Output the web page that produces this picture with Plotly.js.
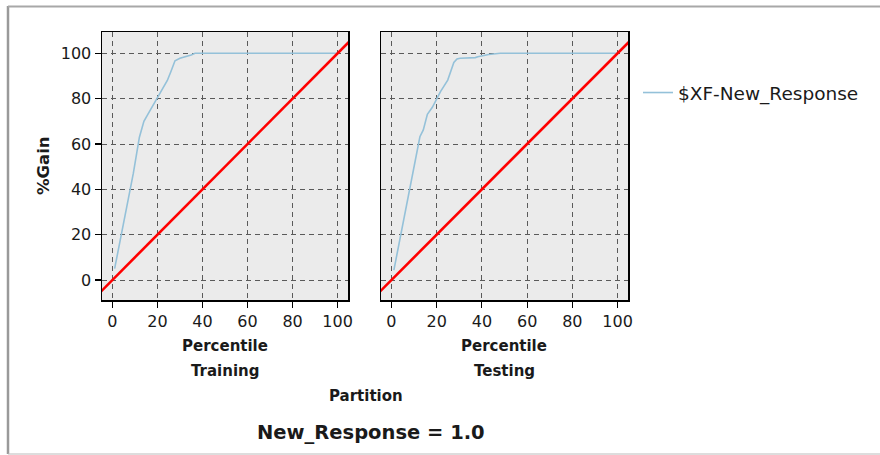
<!DOCTYPE html>
<html>
<head>
<meta charset="utf-8">
<script src="https://cdn.plot.ly/plotly-3.0.1.min.js"></script>
<style>
html,body{margin:0;padding:0;background:#fff;}
#chart{width:880px;height:455px;}
</style>
</head>
<body>
<div id="chart"></div>
<script>
// ---- data ----
const partitions = ["Training", "Testing"];
const seriesName = "$XF-New_Response";
const trainPct  = [1, 3, 5, 8, 9.3, 12, 14, 16, 18, 19.7, 22, 24.4, 26, 27.8, 30, 33, 35, 36.7, 100];
const trainGain = [5, 15, 25, 40, 47, 63, 70, 73.5, 77, 80, 84, 88, 92, 96.7, 97.8, 98.5, 99.3, 100, 100];
const testPct   = [1.1, 4, 6, 8.1, 10, 12.6, 14.1, 15.1, 15.9, 18.1, 20, 21.7, 24.9, 26.1, 27.6, 29, 30.4, 37.1, 38.2, 43, 48.1, 100];
const testGain  = [4.4, 19, 29, 40.4, 50, 63.2, 66.2, 70.6, 73.1, 76.2, 79.8, 83.1, 88.2, 91.9, 96, 97.5, 97.8, 98.1, 98.5, 99.5, 100, 100];
const basePct   = [-5, 105];
const baseGain  = [-5, 105];
const tickVals  = [0, 20, 40, 60, 80, 100];
const tickText  = ["0", "20", "40", "60", "80", "100"];

const W = 880, H = 455;
const FONT = "DejaVu Sans, Verdana, sans-serif";
const blue = "#94c1d9";
const px = v => v / W;
const py = v => 1 - v / H;

const traces = [
  {x: trainPct, y: trainGain, xaxis: "x", yaxis: "y", type: "scatter", mode: "lines",
   name: seriesName, line: {color: blue, width: 1.6}, showlegend: true, hoverinfo: "skip"},
  {x: basePct, y: baseGain, xaxis: "x", yaxis: "y", type: "scatter", mode: "lines",
   line: {color: "#ff0000", width: 2.6}, showlegend: false, hoverinfo: "skip"},
  {x: testPct, y: testGain, xaxis: "x2", yaxis: "y2", type: "scatter", mode: "lines",
   name: seriesName, line: {color: blue, width: 1.6}, showlegend: false, hoverinfo: "skip"},
  {x: basePct, y: baseGain, xaxis: "x2", yaxis: "y2", type: "scatter", mode: "lines",
   line: {color: "#ff0000", width: 2.6}, showlegend: false, hoverinfo: "skip"}
];

const tickFont = {family: FONT, size: 16, color: "#1a1a1a"};
function xAxis(d0, d1, anchor) {
  return {domain: [px(d0), px(d1)], anchor: anchor, range: [-4.6, 104.6],
    tickvals: tickVals, ticktext: tickText, ticks: "outside", ticklen: 6, tickwidth: 1.2,
    tickcolor: "#000", showline: true, linecolor: "#000", linewidth: 1.5, mirror: true,
    showgrid: true, gridcolor: "#5a5a5a", griddash: "5px,4px", gridwidth: 1, zeroline: false,
    tickfont: tickFont, fixedrange: true};
}
function yAxis(anchor, labels) {
  return {domain: [py(300), py(32)], anchor: anchor, range: [-8.8, 109.4],
    tickvals: tickVals, ticktext: tickText, ticks: labels ? "outside" : "", ticklen: 6, tickwidth: 1.2,
    tickcolor: "#000", showticklabels: labels, showline: true, linecolor: "#000", linewidth: 1.5, mirror: true,
    showgrid: true, gridcolor: "#5a5a5a", griddash: "5px,4px", gridwidth: 1, zeroline: false,
    tickfont: tickFont, fixedrange: true};
}

const boldFont = s => ({family: FONT, size: s, color: "#1a1a1a", weight: "bold"});
function ann(text, x, y, size, extra) {
  return Object.assign({text: "<b>" + text + "</b>", xref: "paper", yref: "paper", x: px(x), y: py(y),
    xanchor: "center", yanchor: "middle", showarrow: false, font: boldFont(size)}, extra || {});
}

const layout = {
  width: W, height: H,
  margin: {l: 0, r: 0, t: 0, b: 0},
  paper_bgcolor: "#ffffff",
  plot_bgcolor: "#ebebeb",
  xaxis: xAxis(102, 348, "y"),
  yaxis: yAxis("x", true),
  xaxis2: xAxis(381, 628, "y2"),
  yaxis2: yAxis("x2", false),
  showlegend: true,
  legend: {x: px(638), y: py(93), xanchor: "left", yanchor: "middle",
    font: {family: FONT, size: 18.5, color: "#1a1a1a"}, bgcolor: "rgba(0,0,0,0)"},
  annotations: [
    ann("Percentile", 225, 346, 15),
    ann(partitions[0], 225, 371, 15),
    ann("Percentile", 504, 346, 15),
    ann(partitions[1], 504, 371, 15),
    ann("Partition", 366, 396, 15),
    ann("New_Response = 1.0", 371, 432, 19.5),
    ann("%Gain", 43, 166, 16.5, {textangle: -90})
  ],
  shapes: [
    {type: "line", xref: "paper", yref: "paper", x0: px(8), x1: px(8), y0: py(6), y1: py(454),
     line: {color: "#9a9a9a", width: 2.5}},
    {type: "line", xref: "paper", yref: "paper", x0: px(8), x1: 1.01, y0: py(6.5), y1: py(6.5),
     line: {color: "#a8a8a8", width: 2}},
    {type: "line", xref: "paper", yref: "paper", x0: px(8), x1: 1.01, y0: py(454), y1: py(454),
     line: {color: "#bbbbbb", width: 1}}
  ]
};

Plotly.newPlot("chart", traces, layout, {displayModeBar: false, staticPlot: true});
</script>
</body>
</html>
